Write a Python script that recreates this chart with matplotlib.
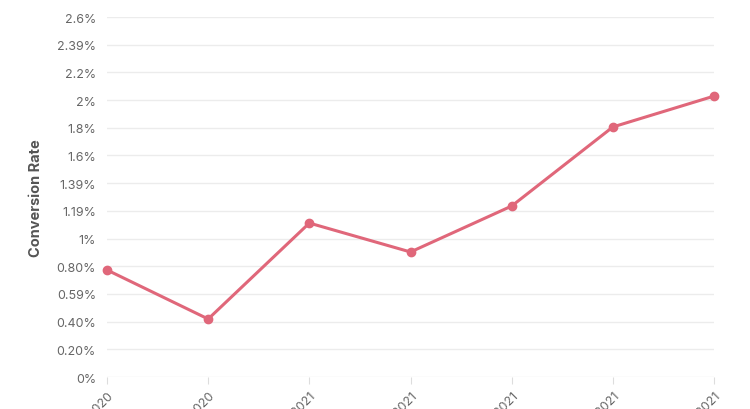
import matplotlib
matplotlib.use("Agg")
import matplotlib.pyplot as plt

# quarters (labels are cut off at the bottom of the reference)
periods = ["Q3 2020", "Q4 2020", "Q1 2021", "Q2 2021", "Q3 2021", "Q4 2021", "Q1 2021"]
conversion = [0.773, 0.419, 1.112, 0.903, 1.235, 1.806, 2.029]

ytick_vals = [i * 0.2 for i in range(14)]
ytick_labels = ["0%", "0.20%", "0.40%", "0.59%", "0.80%", "1%", "1.19%",
                "1.39%", "1.6%", "1.8%", "2%", "2.2%", "2.39%", "2.6%"]

LINE = "#e0677a"
TXT = "#666666"

plt.rcParams["font.family"] = ["Inter", "DejaVu Sans"]

fig = plt.figure(figsize=(7.5, 4.1), dpi=100)
ax = fig.add_axes([0.1427, 0.078, 0.8093, 0.878])

x = list(range(len(periods)))
ax.plot(x, conversion, color=LINE, lw=2.2, marker="o", markersize=6,
        clip_on=False, zorder=3)

ax.set_xlim(0, len(periods) - 1)
ax.set_ylim(0, 2.6)
ax.set_yticks(ytick_vals)
ax.set_yticklabels(ytick_labels, fontsize=9, color=TXT)
ax.set_xticks(x)
ax.set_xticklabels(periods, rotation=45, ha="right", va="top",
                   rotation_mode="anchor", fontsize=9, color=TXT)

ax.grid(axis="y", color="#ececec", lw=1)
ax.set_axisbelow(True)
for s in ax.spines.values():
    s.set_visible(False)
ax.tick_params(axis="y", length=0, pad=8)
ax.tick_params(axis="x", length=5, color="#dddddd", pad=4)

ax.set_ylabel("Conversion Rate", fontsize=10.5, color="#555555",
              fontweight="bold")
ax.yaxis.set_label_coords(-0.106, 0.5)

fig.savefig("out.png", dpi=100)
